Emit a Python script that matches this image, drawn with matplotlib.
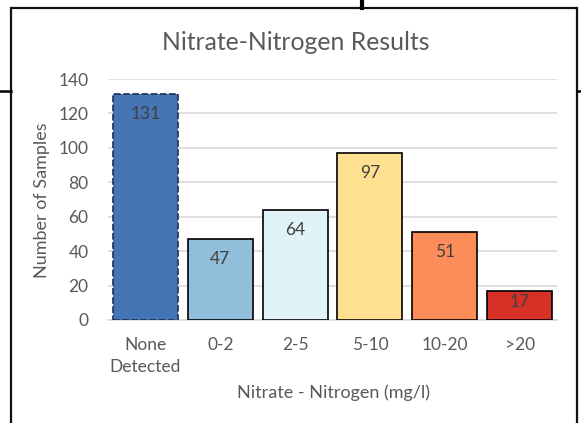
import matplotlib
matplotlib.use("Agg")
from matplotlib import pyplot as plt
from matplotlib.lines import Line2D
from matplotlib.patches import Rectangle

categories = ["None\nDetected", "0-2", "2-5", "5-10", "10-20", ">20"]
samples = [131, 47, 64, 97, 51, 17]
colors = ["#4575b4", "#91bfdb", "#e0f3f8", "#fee090", "#fc8d59", "#d73027"]
y_ticks = [0, 20, 40, 60, 80, 100, 120, 140]

W, H = 581, 423
plt.rcParams["font.family"] = ["Lato", "DejaVu Sans"]
txt = "#595959"

fig = plt.figure(figsize=(W / 100, H / 100), dpi=100)


def fx(px):
    return px / W


def fy(py):
    return 1 - py / H


# chart frame and the stray lines around it
fig.add_artist(Rectangle((fx(11), fy(430)), fx(577) - fx(11), fy(8) - fy(430),
                         fill=False, edgecolor="#111111", linewidth=1.6,
                         transform=fig.transFigure))
fig.add_artist(Line2D([fx(0), fx(11)], [fy(91), fy(91)], color="black", linewidth=1.8,
                      transform=fig.transFigure))
fig.add_artist(Line2D([fx(577), fx(581)], [fy(91), fy(91)], color="black", linewidth=1.8,
                      transform=fig.transFigure))
fig.add_artist(Line2D([fx(362), fx(362)], [fy(0), fy(8)], color="black", linewidth=3,
                      transform=fig.transFigure))

ax = fig.add_axes([fx(108), fy(320), fx(557) - fx(108), fy(79) - fy(320)])
x = range(len(categories))
bars = ax.bar(x, samples, width=0.87, color=colors, edgecolor="black", linewidth=1.2, zorder=3)
bars[0].set_linestyle((0, (4, 1.5)))
bars[0].set_edgecolor("#1f2f4f")

for xi, v in zip(x, samples):
    ax.text(xi, max(v - 11.5, v * 0.63), str(v), ha="center", va="center",
            fontsize=12.5, color="#404040", zorder=4)

ax.set_xlim(-0.5, len(categories) - 0.5)
ax.set_ylim(0, 140)
ax.set_yticks(y_ticks)
ax.set_xticks(list(x))
ax.set_xticklabels(categories, linespacing=1.45)
ax.grid(axis="y", color="#d9d9d9", linewidth=1.2, zorder=0)
ax.tick_params(length=0, labelsize=12.5, labelcolor=txt)
ax.tick_params(axis="x", pad=12)
ax.tick_params(axis="y", pad=14)
for s in ["top", "right", "left"]:
    ax.spines[s].set_visible(False)
ax.spines["bottom"].set_color("#d9d9d9")
ax.spines["bottom"].set_linewidth(1.2)

fig.text(fx(296), fy(42), "Nitrate-Nitrogen Results", ha="center", va="center",
         fontsize=17.8, color=txt)
fig.text(fx(333), fy(393), "Nitrate - Nitrogen (mg/l)", ha="center", va="center",
         fontsize=13, color=txt)
fig.text(fx(42), fy(200), "Number of Samples", ha="center", va="center",
         rotation=90, fontsize=13, color=txt)

fig.savefig("out.png", dpi=100)
